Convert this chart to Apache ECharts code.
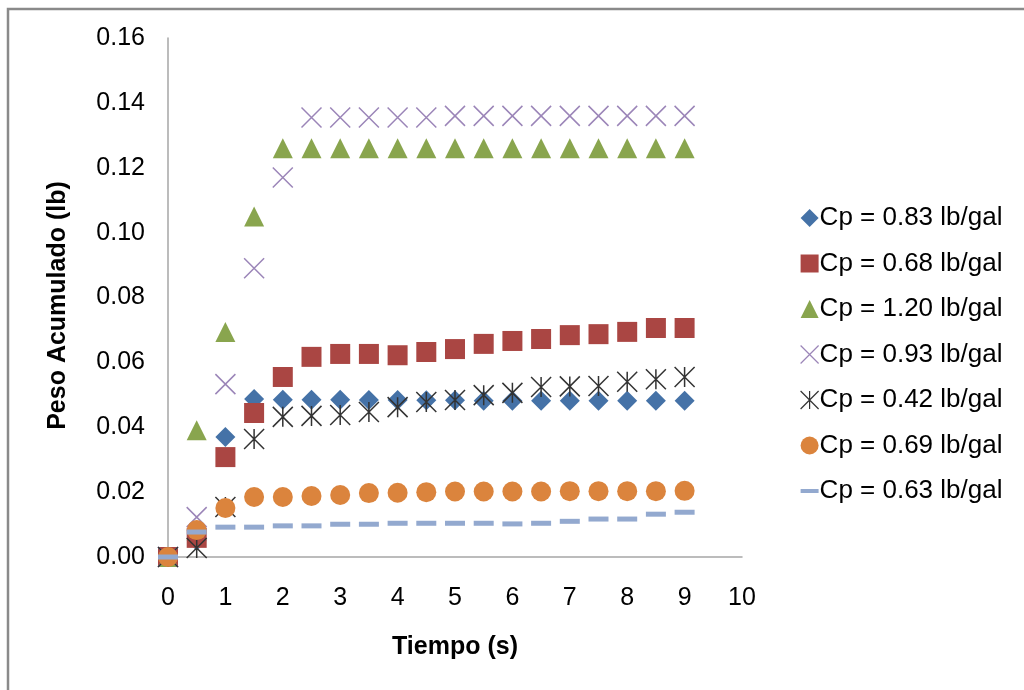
<!DOCTYPE html>
<html>
<head>
<meta charset="utf-8">
<script src="https://cdn.jsdelivr.net/npm/echarts@6/dist/echarts.min.js"></script>
<style>html,body{margin:0;padding:0;background:#fff;}#c{width:1024px;height:690px;}</style>
</head>
<body>
<div id="c"></div>
<script>
const times = [0,0.5,1,1.5,2,2.5,3,3.5,4,4.5,5,5.5,6,6.5,7,7.5,8,8.5,9];
const seriesNames = ['Cp = 0.83 lb/gal','Cp = 0.68 lb/gal','Cp = 1.20 lb/gal','Cp = 0.93 lb/gal','Cp = 0.42 lb/gal','Cp = 0.69 lb/gal','Cp = 0.63 lb/gal'];
const cp083 = [0,0.005,0.037,0.0487,0.0485,0.0485,0.0485,0.0484,0.0484,0.0483,0.0483,0.0482,0.0482,0.0482,0.0482,0.0482,0.0482,0.0482,0.0482];
const cp068 = [0,0.0059,0.0308,0.0444,0.0555,0.0617,0.0626,0.0626,0.0622,0.0632,0.0641,0.0657,0.0666,0.0672,0.0684,0.0687,0.0694,0.0706,0.0706];
const cp120 = [0,0.0391,0.0694,0.105,0.126,0.126,0.126,0.126,0.126,0.126,0.126,0.126,0.126,0.126,0.126,0.126,0.126,0.126,0.126];
const cp093 = [0,0.0123,0.0533,0.089,0.117,0.1355,0.1355,0.1355,0.1355,0.1355,0.136,0.136,0.136,0.136,0.136,0.136,0.136,0.136,0.136];
const cp042 = [0,0.0028,0.0154,0.0364,0.0432,0.0435,0.0438,0.0447,0.0462,0.0478,0.0484,0.0499,0.0506,0.0524,0.0526,0.0527,0.054,0.0548,0.0555];
const cp069 = [0,0.0083,0.0151,0.0185,0.0185,0.0188,0.0191,0.0197,0.0198,0.02,0.0202,0.0202,0.0202,0.0202,0.0203,0.0203,0.0203,0.0203,0.0204];
const cp063 = [0,0.0077,0.0092,0.0092,0.0096,0.0096,0.0101,0.0101,0.0104,0.0104,0.0104,0.0104,0.0102,0.0104,0.011,0.0117,0.0117,0.0132,0.0138];
const xTicks = [0,1,2,3,4,5,6,7,8,9,10];

const allValues = [cp083,cp068,cp120,cp093,cp042,cp069,cp063];
const colors = ['#4572A7','#AA4643','#89A54E','#9B85B8','#333333','#DB843D','#93A9CF'];
const XPATH = 'path://M0,0L10,10M10,0L0,10';
const APATH = 'path://M0,0L10,10M10,0L0,10M5,0L5,10';
const DASH = 'path://M0,0L10,0L10,2.2L0,2.2Z';
const symbols = ['diamond','rect','triangle',XPATH,APATH,'circle','rect'];
const legendIcons = ['diamond','rect','triangle',XPATH,APATH,'circle',DASH];
const sizes = [20,20,20,20,20,20,[20,5]];
const FONT = 'Liberation Sans';
const FS = 25;

const series = allValues.map((vals, i) => {
  const isLine = (i === 3 || i === 4);
  return {
    name: seriesNames[i],
    type: 'scatter',
    data: vals.map((v, k) => [times[k], v]),
    symbol: symbols[i],
    symbolSize: sizes[i],
    itemStyle: isLine ? {color: 'rgba(0,0,0,0)', borderColor: colors[i], borderWidth: 1.5, opacity: 1}
                      : {color: colors[i], opacity: 1},
    emphasis: {disabled: true}
  };
});

const legendData = seriesNames.map((n, i) => {
  const isLine = (i === 3 || i === 4);
  return {
    name: n,
    icon: legendIcons[i],
    itemStyle: isLine ? {color: 'rgba(0,0,0,0)', borderColor: colors[i], borderWidth: 1.2}
                      : {color: colors[i]},
  };
});

const chart = echarts.init(document.getElementById('c'), null, {renderer: 'canvas'});
chart.setOption({
  animation: false,
  backgroundColor: '#fff',
  graphic: [{
    type: 'rect', shape: {x: 8, y: 9, width: 1100, height: 800},
    style: {fill: 'none', stroke: '#8a8a8a', lineWidth: 2.5}, silent: true
  }],
  grid: {left: 168, right: 282, top: 38, bottom: 133, containLabel: false},
  xAxis: {
    type: 'value', min: 0, max: 10, interval: 1,
    name: 'Tiempo (s)', nameLocation: 'middle', nameGap: 78,
    nameTextStyle: {fontFamily: FONT, fontWeight: 'bold', fontSize: FS, color: '#000'},
    axisLine: {lineStyle: {color: '#a6a6a6', width: 1.5}},
    axisTick: {show: false},
    axisLabel: {fontFamily: FONT, fontSize: FS, color: '#000', margin: 29,
      formatter: v => xTicks.includes(v) ? String(v) : ''},
    splitLine: {show: false}
  },
  yAxis: {
    type: 'value', min: 0, max: 0.16, interval: 0.02,
    name: 'Peso Acumulado (lb)', nameLocation: 'middle', nameGap: 97, nameRotate: 90,
    nameTextStyle: {fontFamily: FONT, fontWeight: 'bold', fontSize: FS, color: '#000', padding: [0, 16, 0, 0]},
    axisLine: {show: true, lineStyle: {color: '#a6a6a6', width: 1.5}},
    axisTick: {show: false},
    axisLabel: {fontFamily: FONT, fontSize: FS, color: '#000', margin: 23,
      formatter: v => v.toFixed(2)},
    splitLine: {show: false}
  },
  legend: {
    orient: 'vertical', left: 795, top: 200,
    itemWidth: 18, itemHeight: 18, itemGap: 19.5,
    textStyle: {fontFamily: FONT, fontSize: 26, color: '#000', lineHeight: 25, padding: [0,0,0,-4]},
    data: legendData,
    selectedMode: false
  },
  series: series
});
</script>
</body>
</html>
